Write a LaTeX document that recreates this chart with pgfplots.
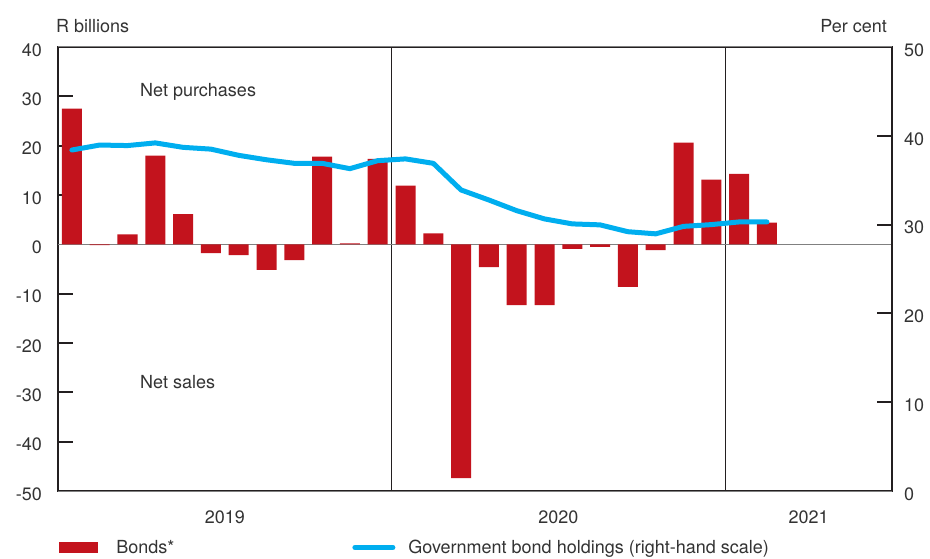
\documentclass[border=0pt]{standalone}
\usepackage{fontspec}
\setmainfont{TeX Gyre Heros}
\usepackage{pgfplots}
\pgfplotsset{compat=1.18}
\definecolor{barred}{HTML}{C3131D}
\definecolor{lineblue}{HTML}{00AEEF}
\definecolor{txt}{HTML}{333333}
\definecolor{frame}{HTML}{231F20}
\begin{document}
\begin{tikzpicture}[font=\fontsize{18}{21}\selectfont]
\path[use as bounding box] (0,0) rectangle (930pt,558pt);
\pgfplotsset{
  base/.style={
    at={(58pt,67pt)}, anchor=south west,
    scale only axis, width=834pt, height=444pt,
    xmin=0, xmax=30,
    /pgf/number format/assume math mode=true,
    tick label style={font=\fontsize{18}{21}\selectfont, text=txt},
    axis line style={frame, line width=2pt},
    major tick style={frame, line width=2pt},
    major tick length=15pt,
  }
}
\begin{axis}[base,
  ymin=-50, ymax=40,
  ytick={-40,-30,-20,-10,10,20,30},
  extra y ticks={-50,0,40},
  extra y tick style={grid=major, major tick length=0pt, major grid style={gray, line width=1pt}},
  ytick pos=left, tick align=inside,
  xtick={6,18,27}, xticklabels={2019,2020,2021}, xtick pos=bottom,
  xtick style={draw=none},
  yticklabel style={anchor=east, inner sep=0pt, xshift=-16pt, yshift=-3pt},
  xticklabel style={anchor=north, inner sep=0pt, yshift=-5pt},
  extra x ticks={12,24}, extra x tick labels={},
  extra x tick style={grid=major, major grid style={frame, line width=0.8pt}},
  ybar, bar width=20pt, bar shift=0pt,
  clip=false,
]
\addplot[fill=barred, draw=none] coordinates {
(0.5,27.5) (1.5,-0.15) (2.5,2.0) (3.5,18.0) (4.5,6.1) (5.5,-1.8) (6.5,-2.2) (7.5,-5.2) (8.5,-3.2) (9.5,17.8) (10.5,0.2) (11.5,17.3)
(12.5,11.9) (13.5,2.2) (14.5,-47.4) (15.5,-4.6) (16.5,-12.3) (17.5,-12.3) (18.5,-0.9) (19.5,-0.5) (20.5,-8.6) (21.5,-1.15) (22.5,20.6) (23.5,13.1)
(24.5,14.3) (25.5,4.4)
};
\node[anchor=base west, inner sep=0pt, text=txt] at (axis cs:2.95,29.9) {Net purchases};
\node[anchor=base west, inner sep=0pt, text=txt] at (axis cs:2.95,-29.3) {Net sales};
\node[anchor=base west, inner sep=0pt, text=txt] at (rel axis cs:0,1) [yshift=14pt, xshift=-2pt] {R billions};
\node[anchor=base east, inner sep=0pt, text=txt] at (rel axis cs:1,1) [yshift=14pt, xshift=-5pt] {Per cent};
\end{axis}
\begin{axis}[base,
  ymin=0, ymax=50,
  axis x line=none, axis y line*=right,
  ytick={10,20,30,40}, extra y ticks={0,50},
  extra y tick style={major tick length=0pt},
  tick align=inside,
  yticklabel style={anchor=west, inner sep=0pt, xshift=12pt, yshift=-3pt},
  legend columns=2,
  legend style={draw=none, fill=none, at={(axis description cs:0,0)}, anchor=north west,
    xshift=1pt, yshift=-49pt, inner sep=0pt, outer sep=0pt,
    nodes={inner sep=0pt, text=txt, font=\fontsize{18}{21}\selectfont},
    /tikz/column 1/.style={column sep=19pt},
    /tikz/column 3/.style={column sep=13pt}},
]
\addlegendimage{legend image code/.code={\fill[barred] (0pt,-5pt) rectangle (38pt,5pt);}}
\addlegendentry{\makebox[236pt][l]{Bonds*}}
\addplot[lineblue, line width=5pt, line join=round, line cap=round,
  legend image code/.code={\draw[lineblue, line width=5pt] (0pt,0pt) -- (38pt,0pt);}] coordinates {
(0.5,38.4) (1.5,38.96) (2.5,38.9) (3.5,39.2) (4.5,38.7) (5.5,38.5) (6.5,37.8) (7.5,37.3) (8.5,36.9) (9.5,36.9) (10.5,36.3) (11.5,37.2)
(12.5,37.4) (13.5,36.9) (14.5,33.9) (15.5,32.77) (16.5,31.57) (17.5,30.64) (18.5,30.08) (19.5,29.97) (20.5,29.2) (21.5,28.96) (22.5,29.8) (23.5,30.0)
(24.5,30.3) (25.5,30.3)
};
\addlegendentry{Government bond holdings (right-hand scale)}
\end{axis}
\end{tikzpicture}
\end{document}
